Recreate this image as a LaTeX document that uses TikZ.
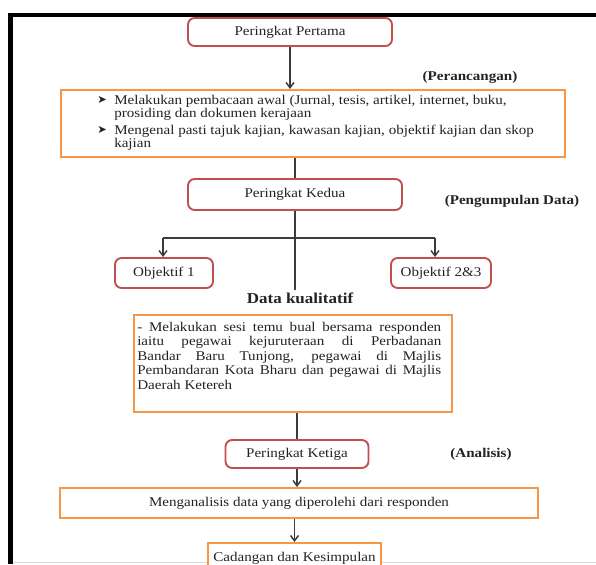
\documentclass[tikz,border=0pt]{standalone}
\usepackage{fontspec}
\setmainfont{Liberation Serif}[FakeStretch=1.13]
\newfontfamily\symfont{DejaVu Sans}
\usetikzlibrary{arrows.meta}
\definecolor{redb}{RGB}{192,80,77}
\definecolor{orab}{RGB}{247,150,70}
\definecolor{linec}{RGB}{60,60,60}
\definecolor{textc}{RGB}{35,35,35}
\newcommand\bul{\makebox[12.75pt][l]{\raisebox{0.3pt}{\symfont\fontsize{8.5}{8.5}\selectfont ➤}}}
\begin{document}
\begin{tikzpicture}[x=0.75pt,y=-0.75pt,
 rbox/.style={draw=redb, line width=1.4pt, rounded corners=5pt, fill=white, text=textc, font=\fontsize{10}{12}\selectfont, inner sep=0pt},
 obox/.style={draw=orab, line width=1.5pt, fill=white, text=textc, inner sep=0pt, font=\fontsize{10}{12}\selectfont},
 conn/.style={draw=linec, line width=1.1pt},
 arr/.style={conn, -{Straight Barb[length=4pt,width=6pt]}},
 lab/.style={font=\bfseries\fontsize{10}{12}\selectfont, text=textc, inner sep=0pt},
 txt/.style={font=\fontsize{10}{9.8}\selectfont, text=textc, inner sep=0pt}]
\useasboundingbox (0,0) rectangle (596,564);
\clip (0,0) rectangle (596,564);
\fill[white] (0,0) rectangle (596,564);
% frame
\fill[black] (8,13) rectangle (13,564);
\fill[black] (8,13) rectangle (596,17);
\draw[gray!30, line width=0.8pt] (13,562.5) -- (596,562.5);

% nodes
\node[rbox, minimum width=204*0.75pt, minimum height=28*0.75pt] (p1) at (290,32) {Peringkat Pertama};
\node[lab] (l1) at (470,77) {(Perancangan)};
\node[obox, minimum width=504*0.75pt, minimum height=67*0.75pt] (b1) at (313,123.5) {};
\node[txt, anchor=west, align=left] (t1) at (97,122.5) {\bul Melakukan pembacaan awal (Jurnal, tesis, artikel, internet, buku,\\
\hspace*{12.75pt}prosiding dan dokumen kerajaan\\[3pt]
\bul Mengenal pasti tajuk kajian, kawasan kajian, objektif kajian dan skop\\
\hspace*{12.75pt}kajian};

\node[rbox, minimum width=214*0.75pt, minimum height=31*0.75pt] (p2) at (295,194.5) {Peringkat Kedua};
\node[lab] (l2) at (512,201) {(Pengumpulan Data)};

\node[rbox, minimum width=98*0.75pt, minimum height=30*0.75pt] (o1) at (164,273) {Objektif 1};
\node[rbox, minimum width=100*0.75pt, minimum height=30*0.75pt] (o2) at (441,273) {Objektif 2\&3};
\node[lab, font=\bfseries\fontsize{11.3}{13}\selectfont] (dk) at (300,298) {Data kualitatif};

\node[obox, minimum width=318*0.75pt, minimum height=97*0.75pt] (b2) at (293,363.5) {};
\node[txt, font=\fontsize{10}{10.8}\selectfont, anchor=north west, align=left] (t2) at (137,322) {%
\makebox[228pt][s]{- Melakukan sesi temu bual bersama responden}\\
\makebox[228pt][s]{iaitu pegawai kejuruteraan di Perbadanan}\\
\makebox[228pt][s]{Bandar Baru Tunjong, pegawai di Majlis}\\
\makebox[228pt][s]{Pembandaran Kota Bharu dan pegawai di Majlis}\\
Daerah Ketereh};

\node[rbox, minimum width=143*0.75pt, minimum height=28*0.75pt] (p3) at (297,454) {Peringkat Ketiga};
\node[lab] (l3) at (481,454) {(Analisis)};
\node[obox, minimum width=478*0.75pt, minimum height=30*0.75pt] (b3) at (299,503) {Menganalisis data yang diperolehi dari responden};
\node[obox, minimum width=173*0.75pt, minimum height=30*0.75pt] (cd) at (294.5,558) {Cadangan dan Kesimpulan};

% connectors
\coordinate (jl) at (163,238);
\coordinate (jr) at (435,238);
\coordinate (vend) at (295,290);
\draw[arr] (p1.south) -- (p1.south |- b1.north);
\draw[conn] (b1.south -| p2.north) -- (p2.north);
\draw[conn] (p2.south) -- (vend);
\draw[conn] (jl) -- (jr);
\draw[arr] (jl) -- (jl |- o1.north);
\draw[arr] (jr) -- (jr |- o2.north);
\draw[conn] (b2.south -| p3.north) -- (p3.north);
\draw[arr] (p3.south) -- (p3.south |- b3.north);
\draw[arr] (b3.south -| cd.north) -- (cd.north);
\end{tikzpicture}
\end{document}
